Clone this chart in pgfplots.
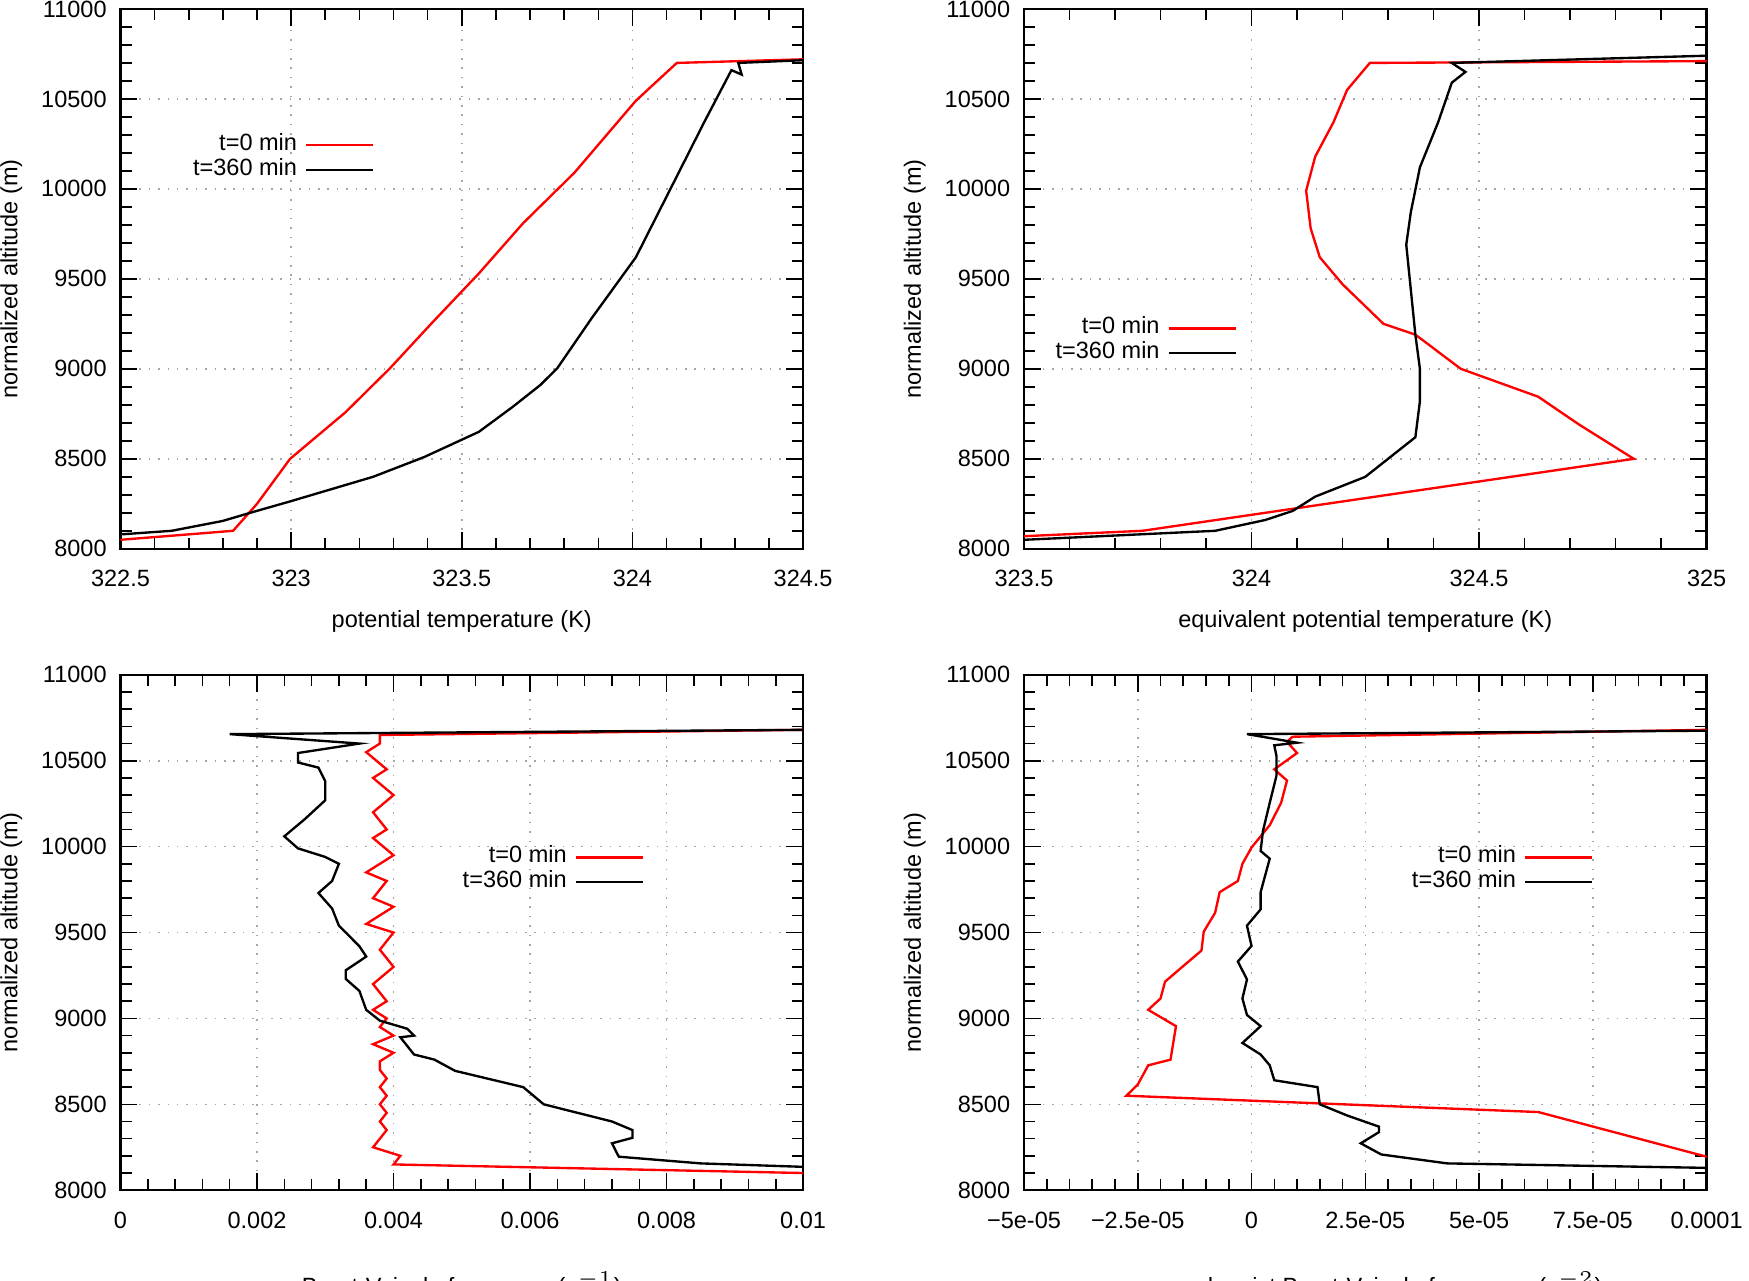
\documentclass[border=0pt]{standalone}
\usepackage{pgfplots}
\pgfplotsset{compat=1.18}
\usepackage{fontspec}
\setmainfont{Liberation Sans}
\pgfplotsset{
  every axis/.style={scale only axis, width=6.12cm, height=4.84cm,
    ymin=8000, ymax=11000, ytick={8000,8500,...,11000},
    grid=major, grid style={dotted, gray!70},
    minor y tick num=4, minor x tick num=4,
    tick style={black, line width=0.4pt},
    axis line style={line width=0.6pt},
    /pgf/number format/assume math mode=true,
    /pgf/number format/set thousands separator={},
    scaled ticks=false,
    font=\fontsize{6}{7}\selectfont,
    xticklabel style={yshift=-2pt},
    ylabel={normalized altitude (m)},
    ylabel style={yshift=-2pt},
    legend style={draw=none, fill=none, font=\fontsize{6}{7}\selectfont, row sep=-3.5pt},
    legend cell align=right, legend plot pos=right,
    legend image post style={line width=0.6pt},
  },
  r/.style={red, line width=0.6pt, no marks},
  k/.style={black, line width=0.6pt, no marks},
}
\begin{document}
\begin{tikzpicture}[x=1cm,y=1cm]
\path[use as bounding box] (0,0) rectangle (15.68,-11.48);
% plot 1
\begin{axis}[at={(1.08cm,-0.08cm)}, anchor=north west, xmin=322.5, xmax=324.5,
  xtick={322.5,323,323.5,324,324.5}, xticklabels={322.5,323,323.5,324,324.5},
  xlabel={potential temperature (K)}, xlabel style={yshift=1pt},
  legend style={at={(0.39,0.80)}, anchor=north east}]
\addplot[r] coordinates {(322.5,8050)(322.83,8100)(322.90,8250)(322.997,8500)(323.16,8760)(323.29,9004)(323.41,9250)(323.55,9530)(323.68,9810)(323.83,10090)(324.01,10490)(324.13,10700)(324.5,10720)};
\addplot[k] coordinates {(322.5,8080)(322.65,8100)(322.80,8155)(322.88,8200)(323.0,8265)(323.24,8400)(323.39,8510)(323.55,8650)(323.65,8790)(323.73,8910)(323.78,9004)(323.88,9280)(324.01,9620)(324.11,9995)(324.21,10370)(324.29,10660)(324.32,10635)(324.31,10700)(324.5,10715)};
\legend{t=0 min, t=360 min}
\end{axis}
% plot 2
\begin{axis}[at={(9.18cm,-0.08cm)}, anchor=north west, xmin=323.5, xmax=325,
  xtick={323.5,324,324.5,325}, xticklabels={323.5,324,324.5,325},
  xlabel={equivalent potential temperature (K)}, xlabel style={yshift=1pt},
  legend style={at={(0.33,0.46)}, anchor=north east}]
\addplot[r] coordinates {(323.5,8070)(323.76,8100)(324.84,8500)(324.72,8690)(324.63,8845)(324.46,9000)(324.36,9190)(324.29,9250)(324.20,9470)(324.15,9620)(324.13,9780)(324.12,9990)(324.14,10180)(324.18,10370)(324.21,10550)(324.26,10700)(325,10710)};
\addplot[k] coordinates {(323.5,8050)(323.92,8100)(324.03,8160)(324.09,8210)(324.14,8290)(324.25,8400)(324.33,8560)(324.36,8620)(324.37,8820)(324.37,9000)(324.36,9190)(324.35,9440)(324.34,9690)(324.35,9870)(324.37,10120)(324.41,10370)(324.44,10590)(324.47,10650)(324.44,10700)(325,10740)};
\legend{t=0 min, t=360 min}
\end{axis}
% plot 3
\begin{axis}[at={(1.08cm,-6.05cm)}, anchor=north west, height=4.62cm, xmin=0, xmax=0.01,
  xtick={0,0.002,0.004,0.006,0.008,0.01}, xticklabels={0,0.002,0.004,0.006,0.008,0.01},
  xlabel={Brunt-Vaisala frequency (s$^{-1}$)}, xlabel style={yshift=-4pt},
  legend style={at={(0.785,0.70)}, anchor=north east}]
\addplot[r] coordinates {(0.01,8100)(0.0040,8150)(0.0041,8200)(0.0037,8250)(0.0038,8300)(0.0039,8350)(0.0038,8400)(0.0039,8450)(0.0038,8500)(0.0039,8550)(0.0038,8600)(0.0039,8650)(0.0038,8700)(0.0038,8750)(0.0040,8800)(0.0037,8850)(0.0040,8900)(0.0038,8950)(0.0039,9000)(0.0037,9050)(0.0039,9100)(0.0037,9200)(0.0040,9300)(0.0038,9400)(0.0040,9500)(0.0036,9550)(0.0040,9650)(0.0037,9700)(0.0039,9800)(0.0036,9850)(0.0040,9950)(0.0037,10050)(0.0039,10100)(0.0037,10200)(0.0040,10300)(0.0037,10400)(0.0039,10450)(0.0036,10550)(0.0038,10600)(0.0038,10650)(0.01,10680)};
\addplot[k] coordinates {(0.01,8136)(0.0085,8156)(0.0073,8195)(0.0072,8273)(0.0075,8305)(0.0075,8350)(0.0072,8400)(0.0062,8500)(0.0059,8600)(0.0049,8695)(0.0046,8760)(0.0043,8790)(0.0041,8890)(0.0043,8900)(0.0042,8940)(0.0038,8987)(0.0036,9050)(0.0035,9160)(0.0033,9230)(0.0033,9280)(0.0036,9360)(0.0035,9420)(0.0032,9540)(0.0031,9640)(0.0029,9730)(0.0031,9800)(0.0032,9900)(0.0030,9940)(0.0026,9990)(0.0024,10060)(0.0027,10160)(0.0030,10270)(0.0030,10380)(0.0029,10460)(0.0026,10490)(0.0026,10545)(0.0035,10600)(0.0016,10655)(0.01,10680)};
\legend{t=0 min, t=360 min}
\end{axis}
% plot 4
\begin{axis}[at={(9.18cm,-6.05cm)}, anchor=north west, height=4.62cm, xmin=-5e-5, xmax=1e-4,
  xtick={-5e-5,-2.5e-5,0,2.5e-5,5e-5,7.5e-5,1e-4},
  xticklabels={−5e-05,−2.5e-05,0,2.5e-05,5e-05,7.5e-05,0.0001},
  xlabel={squared moist Brunt-Vaisala frequency (s$^{-2}$)}, xlabel style={yshift=-4pt},
  legend style={at={(0.852,0.70)}, anchor=north east}]
\addplot[r] coordinates {(1.1e-4,8150)(1e-4,8195)(6.3e-5,8455)(-2.75e-5,8550)(-2.5e-5,8615)(-2.27e-5,8727)(-1.78e-5,8760)(-1.66e-5,8955)(-2.27e-5,9050)(-2.0e-5,9116)(-1.9e-5,9214)(-1.5e-5,9305)(-1.1e-5,9395)(-1.05e-5,9505)(-8e-6,9615)(-7e-6,9735)(-3e-6,9800)(-2e-6,9900)(0,9995)(4e-6,10125)(6.5e-6,10255)(7.8e-6,10385)(5e-6,10450)(1.0e-5,10545)(7.8e-6,10610)(9e-6,10640)(1e-4,10680)};
\addplot[k] coordinates {(1e-4,8130)(4.3e-5,8156)(2.85e-5,8208)(2.4e-5,8273)(2.8e-5,8338)(2.8e-5,8370)(2.1e-5,8435)(1.5e-5,8500)(1.45e-5,8600)(5e-6,8640)(4e-6,8727)(2e-6,8790)(-2e-6,8857)(2e-6,8955)(-1e-6,9020)(-2e-6,9116)(-1e-6,9227)(-3e-6,9331)(0,9422)(-1e-6,9540)(2e-6,9635)(2e-6,9735)(4e-6,9930)(2e-6,9975)(2.5e-6,10090)(4e-6,10255)(5.5e-6,10415)(5.5e-6,10525)(5e-6,10590)(1.0e-5,10605)(-1e-6,10655)(1e-4,10675)};
\legend{t=0 min, t=360 min}
\end{axis}
\end{tikzpicture}
\end{document}
